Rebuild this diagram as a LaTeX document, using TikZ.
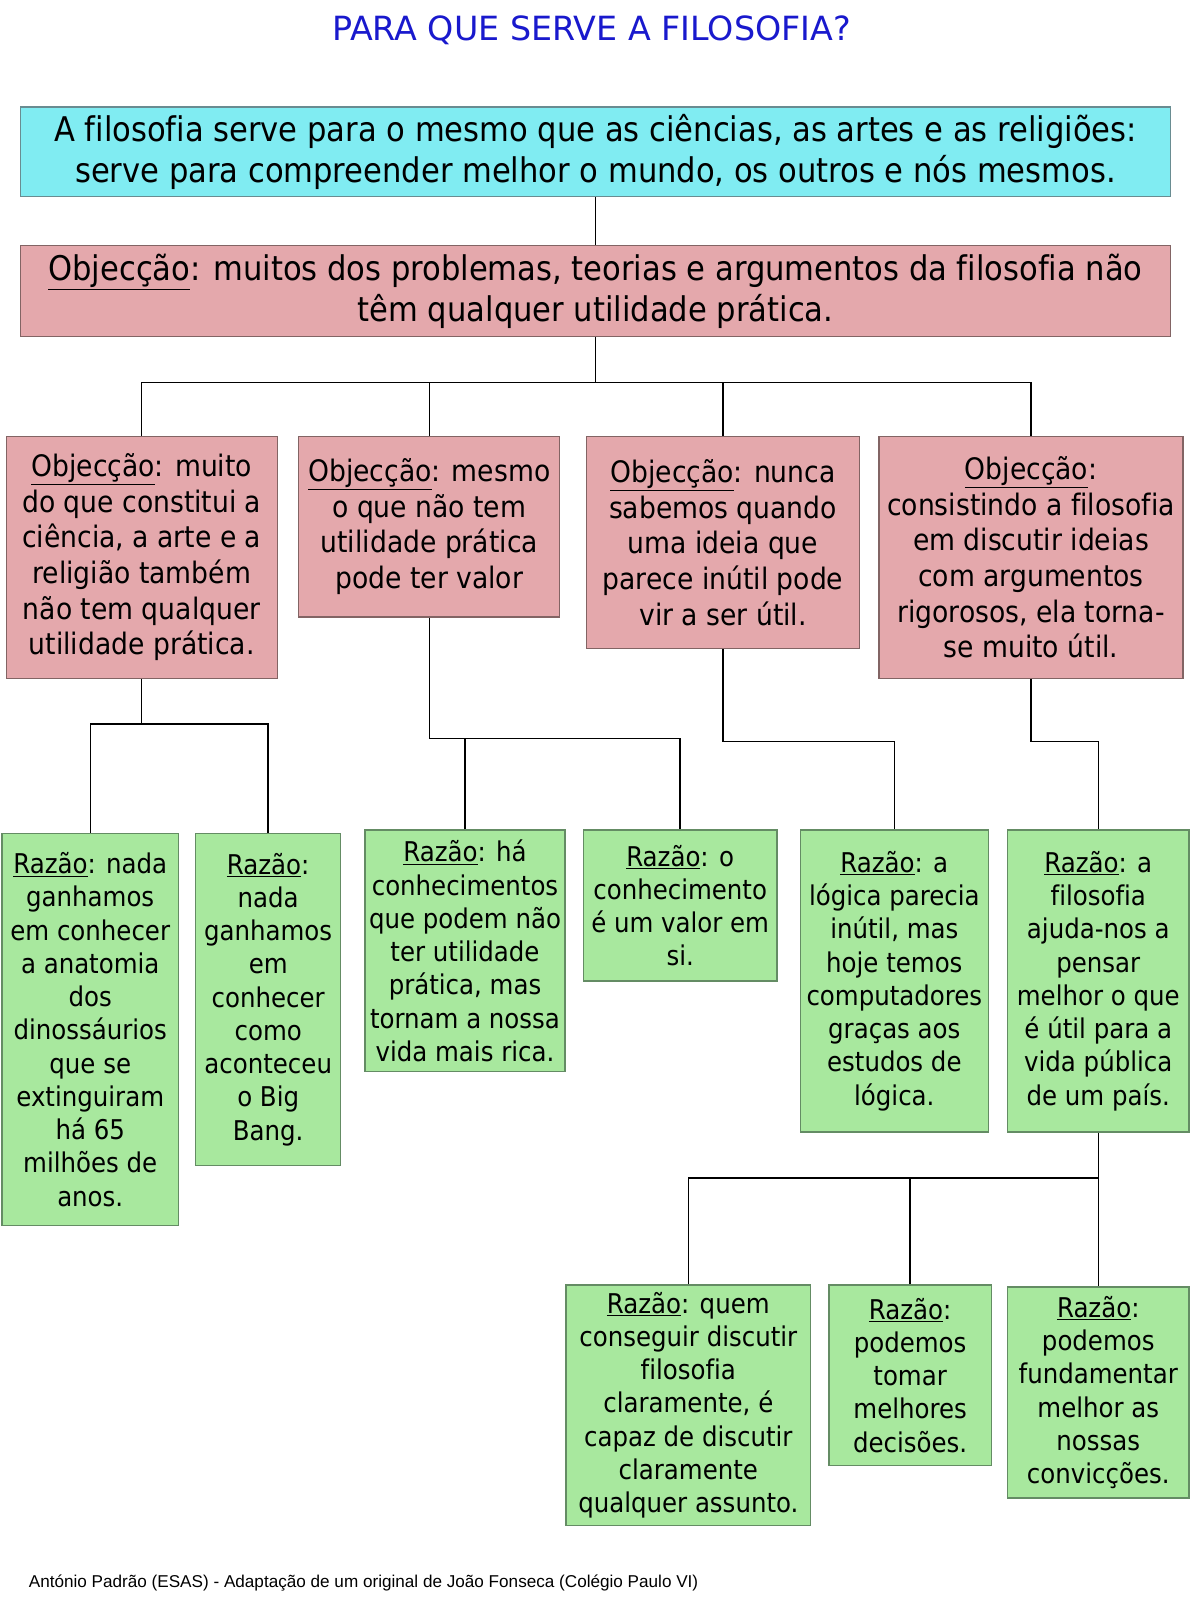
\documentclass[tikz,border=0pt]{standalone}
\usepackage{fontspec}
\setmainfont{DejaVu Sans Condensed}[Ligatures={NoCommon}]
\newfontfamily\titlefont{DejaVu Sans}
\newfontfamily\footfont{Liberation Sans}
\definecolor{cyanF}{RGB}{128,236,242}
\definecolor{cyanD}{RGB}{105,140,145}
\definecolor{pinkF}{RGB}{228,168,172}
\definecolor{pinkD}{RGB}{130,100,100}
\definecolor{greenF}{RGB}{168,232,158}
\definecolor{greenD}{RGB}{100,140,100}
\definecolor{titleblue}{RGB}{25,25,205}
\newcommand\Obj{\underline{Objecção}}
\newcommand\Raz{\underline{Razão}}
\begin{document}
\begin{tikzpicture}[x=0.75pt,y=-0.75pt,
  boxat/.style n args={4}{minimum width={(#3-#1)*0.75pt}, minimum height={(#4-#2)*0.75pt},
     at={({(#1+#3)/2},{(#2+#4)/2})}},
  bx/.style={draw, line width=0.9pt, inner sep=0pt, align=center, text=black},
  cyanbox/.style={bx, fill=cyanF, draw=cyanD, font=\fontsize{25}{30}\selectfont},
  pinkwide/.style={bx, fill=pinkF, draw=pinkD, font=\fontsize{25}{30}\selectfont},
  pinkbox/.style={bx, fill=pinkF, draw=pinkD, font=\fontsize{21.75}{26.25}\selectfont},
  greenbox/.style={bx, fill=greenF, draw=greenD, font=\fontsize{20}{24.45}\selectfont},
  conn/.style={draw=black, line width=1.1pt}]
\useasboundingbox (0,0) rectangle (1180,1569);
\fill[white] (0,0) rectangle (1180,1569);

\node[font=\titlefont\fontsize{24.5}{28}\selectfont, text=titleblue] (title) at (580,30) {PARA QUE SERVE A FILOSOFIA?};

\node[cyanbox, boxat={20}{105}{1148}{193}] (top) {A filosofia serve para o mesmo que as ciências, as artes e as religiões:\\serve para compreender melhor o mundo, os outros e nós mesmos.};
\node[pinkwide, boxat={20}{241}{1148}{330}] (obj) {\Obj: muitos dos problemas, teorias e argumentos da filosofia não\\têm qualquer utilidade prática.};

\node[pinkbox, boxat={6}{428}{272}{665}] (o1) {\Obj: muito\\do que constitui a\\ciência, a arte e a\\religião também\\não tem qualquer\\utilidade prática.};
\node[pinkbox, boxat={293}{428}{549}{605}] (o2) {\Obj: mesmo\\o que não tem\\utilidade prática\\pode ter valor};
\node[pinkbox, boxat={575}{428}{843}{636}] (o3) {\Obj: nunca\\sabemos quando\\uma ideia que\\parece inútil pode\\vir a ser útil.};
\node[pinkbox, boxat={862}{428}{1160}{665}] (o4) {\Obj:\\consistindo a filosofia\\em discutir ideias\\com argumentos\\rigorosos, ela torna-\\se muito útil.};

\node[greenbox, boxat={2}{817}{175}{1202}] (r1) {\Raz: nada\\ganhamos\\em conhecer\\a anatomia\\dos\\dinossáurios\\que se\\extinguiram\\há 65\\milhões de\\anos.};
\node[greenbox, boxat={192}{817}{334}{1143}] (r2) {\Raz:\\nada\\ganhamos\\em\\conhecer\\como\\aconteceu\\o Big\\Bang.};
\node[greenbox, boxat={358}{814}{554}{1051}] (r3) {\Raz: há\\conhecimentos\\que podem não\\ter utilidade\\prática, mas\\tornam a nossa\\vida mais rica.};
\node[greenbox, boxat={572}{814}{762}{962}] (r4) {\Raz: o\\conhecimento\\é um valor em\\si.};
\node[greenbox, boxat={785}{814}{969}{1110}] (r5) {\Raz: a\\lógica parecia\\inútil, mas\\hoje temos\\computadores\\graças aos\\estudos de\\lógica.};
\node[greenbox, boxat={988}{814}{1166}{1110}] (r6) {\Raz: a\\filosofia\\ajuda-nos a\\pensar\\melhor o que\\é útil para a\\vida pública\\de um país.};

\node[greenbox, boxat={555}{1260}{795}{1496}] (s1) {\Raz: quem\\conseguir discutir\\filosofia\\claramente, é\\capaz de discutir\\claramente\\qualquer assunto.};
\node[greenbox, boxat={813}{1260}{972}{1437}] (s2) {\Raz:\\podemos\\tomar\\melhores\\decisões.};
\node[greenbox, boxat={988}{1262}{1166}{1469}] (s3) {\Raz:\\podemos\\fundamentar\\melhor as\\nossas\\convicções.};

\node[anchor=base west, inner sep=0pt, font=\footfont\fontsize{12.6}{15}\selectfont] (foot) at (28,1557) {António Padrão (ESAS) - Adaptação de um original de João Fonseca (Colégio Paulo VI)};

% connectors
\draw[conn] (top.south) -- (obj.north);
\coordinate (j1) at (584,375);
\draw[conn] (obj.south) -- (j1);
\draw[conn] (o1.north) -- (o1.north |- j1) -- (o4.north |- j1) -- (o4.north);
\draw[conn] (o2.north) -- (o2.north |- j1);
\draw[conn] (o3.north) -- (o3.north |- j1);

\coordinate (j2) at (139,710);
\draw[conn] (o1.south) -- (j2);
\draw[conn] (r1.north) -- (r1.north |- j2) -- (r2.north |- j2) -- (r2.north);

\coordinate (j3) at (421,724);
\draw[conn] (o2.south) -- (j3) -- (r4.north |- j3) -- (r4.north);
\draw[conn] (r3.north) -- (r3.north |- j3);

\coordinate (j4) at (709,727);
\draw[conn] (o3.south) -- (j4) -- (r5.north |- j4) -- (r5.north);

\coordinate (j5) at (1011,727);
\draw[conn] (o4.south) -- (j5) -- (r6.north |- j5) -- (r6.north);

\coordinate (j6) at (1077,1155);
\draw[conn] (r6.south) -- (s3.north);
\draw[conn] (s1.north) -- (s1.north |- j6) -- (j6);
\draw[conn] (s2.north) -- (s2.north |- j6);
\end{tikzpicture}
\end{document}
